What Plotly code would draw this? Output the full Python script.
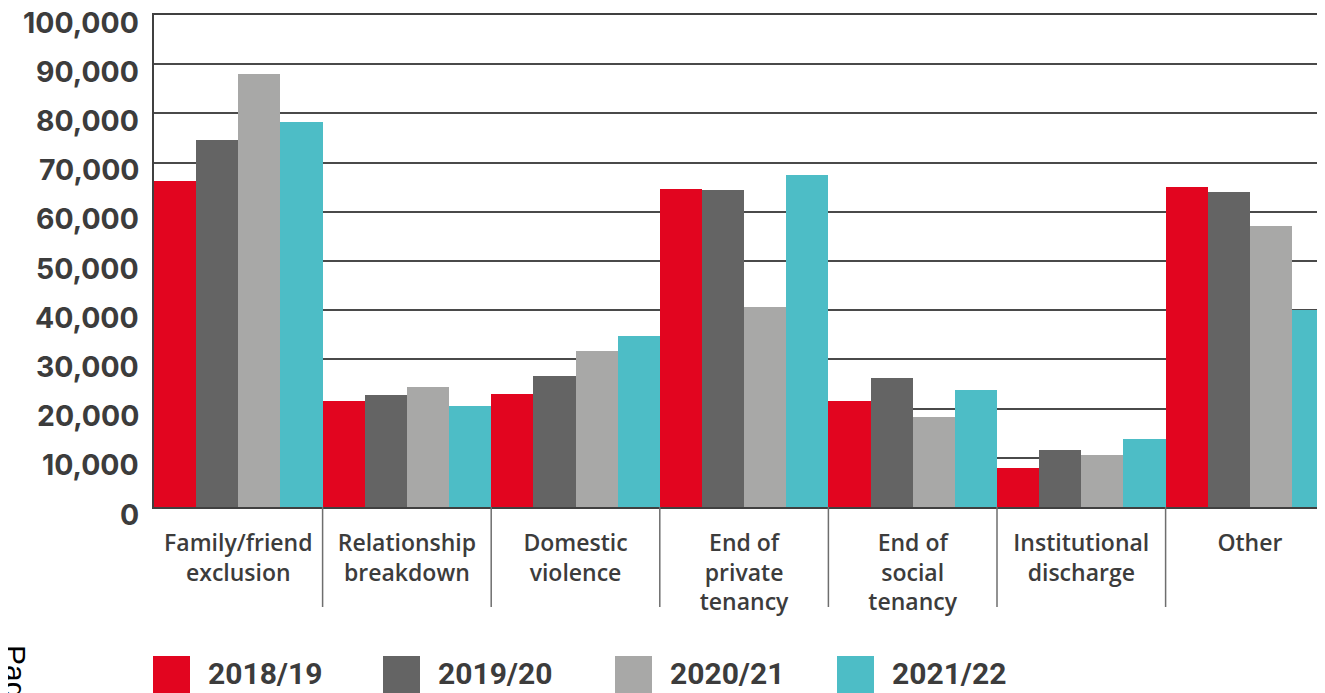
import plotly.graph_objects as go

# ---------------- data ----------------
categories = [
    "Family/friend<br>exclusion",
    "Relationship<br>breakdown",
    "Domestic<br>violence",
    "End of<br>private<br>tenancy",
    "End of<br>social<br>tenancy",
    "Institutional<br>discharge",
    "Other",
]
series_names = ["2018/19", "2019/20", "2020/21", "2021/22"]
values_2018_19 = [66300, 21600, 23000, 64600, 21600, 7900, 65000]
values_2019_20 = [74600, 22800, 26600, 64400, 26200, 11600, 64000]
values_2020_21 = [88000, 24400, 31700, 40700, 18300, 10600, 57100]
values_2021_22 = [78200, 20500, 34800, 67500, 23800, 13800, 40100]
series_values = [values_2018_19, values_2019_20, values_2020_21, values_2021_22]
series_colors = ["#E2051F", "#646464", "#A8A8A7", "#4DBDC6"]
y_tick_values = [0, 10000, 20000, 30000, 40000, 50000, 60000, 70000, 80000, 90000, 100000]
y_tick_labels = ["0", "10,000", "20,000", "30,000", "40,000", "50,000",
                 "60,000", "70,000", "80,000", "90,000", "100,000"]

# ---------------- layout geometry ----------------
OFF = 8  # default page margin of the html body
VW, VH = 1325, 693
W, H = VW - OFF, VH - OFF
PLOT_L, PLOT_T, PLOT_B = 154, 15, 507  # on-screen pixel positions
ML, MT = PLOT_L - OFF, PLOT_T - OFF
MB = H - (PLOT_B - OFF)
MR = 0
PW, PH = W - ML - MR, H - MT - MB
CAT_W = 168.6
TEXT = "#3c3c3c"


def px_x(px):
    return (px - PLOT_L) / PW


def px_y(py):
    return (PLOT_B - py) / PH


fig = go.Figure()
for name, vals, col in zip(series_names, series_values, series_colors):
    fig.add_trace(go.Bar(
        x=categories, y=vals, name=name, marker_color=col,
        marker_line_width=0, showlegend=False,
    ))

# category separators below the axis
shapes = []
for i in range(len(categories) - 1):
    shapes.append(dict(type="line", xref="x", yref="paper",
                       x0=i + 0.5, x1=i + 0.5, y0=0, y1=-100 / PH,
                       line=dict(color="#6e6e6e", width=1.5)))

annotations = []
# y tick labels (sit slightly below their grid lines, as in the original)
for v, lbl in zip(y_tick_values, y_tick_labels):
    annotations.append(dict(xref="paper", yref="y", x=0, y=v,
                            xanchor="right", yanchor="middle",
                            xshift=-13, yshift=-7, text=lbl, showarrow=False,
                            font=dict(family="Inter", size=28.4, color=TEXT,
                                      weight="bold")))

# custom legend (large squares)
legend_x_px = [153, 383, 615, 837]
for name, col, lx in zip(series_names, series_colors, legend_x_px):
    shapes.append(dict(type="rect", xref="paper", yref="paper",
                       x0=px_x(lx), x1=px_x(lx + 37),
                       y0=px_y(656), y1=px_y(VH + 5),
                       fillcolor=col, line=dict(width=0)))
    annotations.append(dict(xref="paper", yref="paper", x=px_x(lx + 53),
                            y=px_y(673), xanchor="left", yanchor="middle",
                            text=name, showarrow=False,
                            font=dict(family="Roboto", size=30, color=TEXT,
                                      weight="bold")))

# cut-off page label at the bottom-left
annotations.append(dict(xref="paper", yref="paper", x=px_x(16), y=px_y(643),
                        xanchor="center", yanchor="top", text="Page",
                        textangle=90, showarrow=False,
                        font=dict(family="Liberation Sans", size=30,
                                  color="#000000")))

fig.update_layout(
    width=W, height=H, autosize=False,
    margin=dict(l=ML, r=MR, t=MT, b=MB, pad=0),
    paper_bgcolor="white", plot_bgcolor="white",
    barmode="group", bargap=0, bargroupgap=0,
    showlegend=False,
    shapes=shapes, annotations=annotations,
    xaxis=dict(
        type="category", range=[-0.5, -0.5 + PW / CAT_W],
        showline=True, mirror=True, linecolor="#404040", linewidth=2,
        ticks="", ticklen=0, showgrid=False, ticklabelstandoff=14,
        tickfont=dict(family="Open Sans", size=23, color=TEXT, weight=600),
    ),
    yaxis=dict(
        range=[0, 100000], tickvals=y_tick_values,
        showgrid=True, gridcolor="#4a4a4a", gridwidth=1.5,
        showline=True, linecolor="#404040", linewidth=2,
        zeroline=False, ticks="", showticklabels=False,
    ),
)

fig.write_html("out.html")
